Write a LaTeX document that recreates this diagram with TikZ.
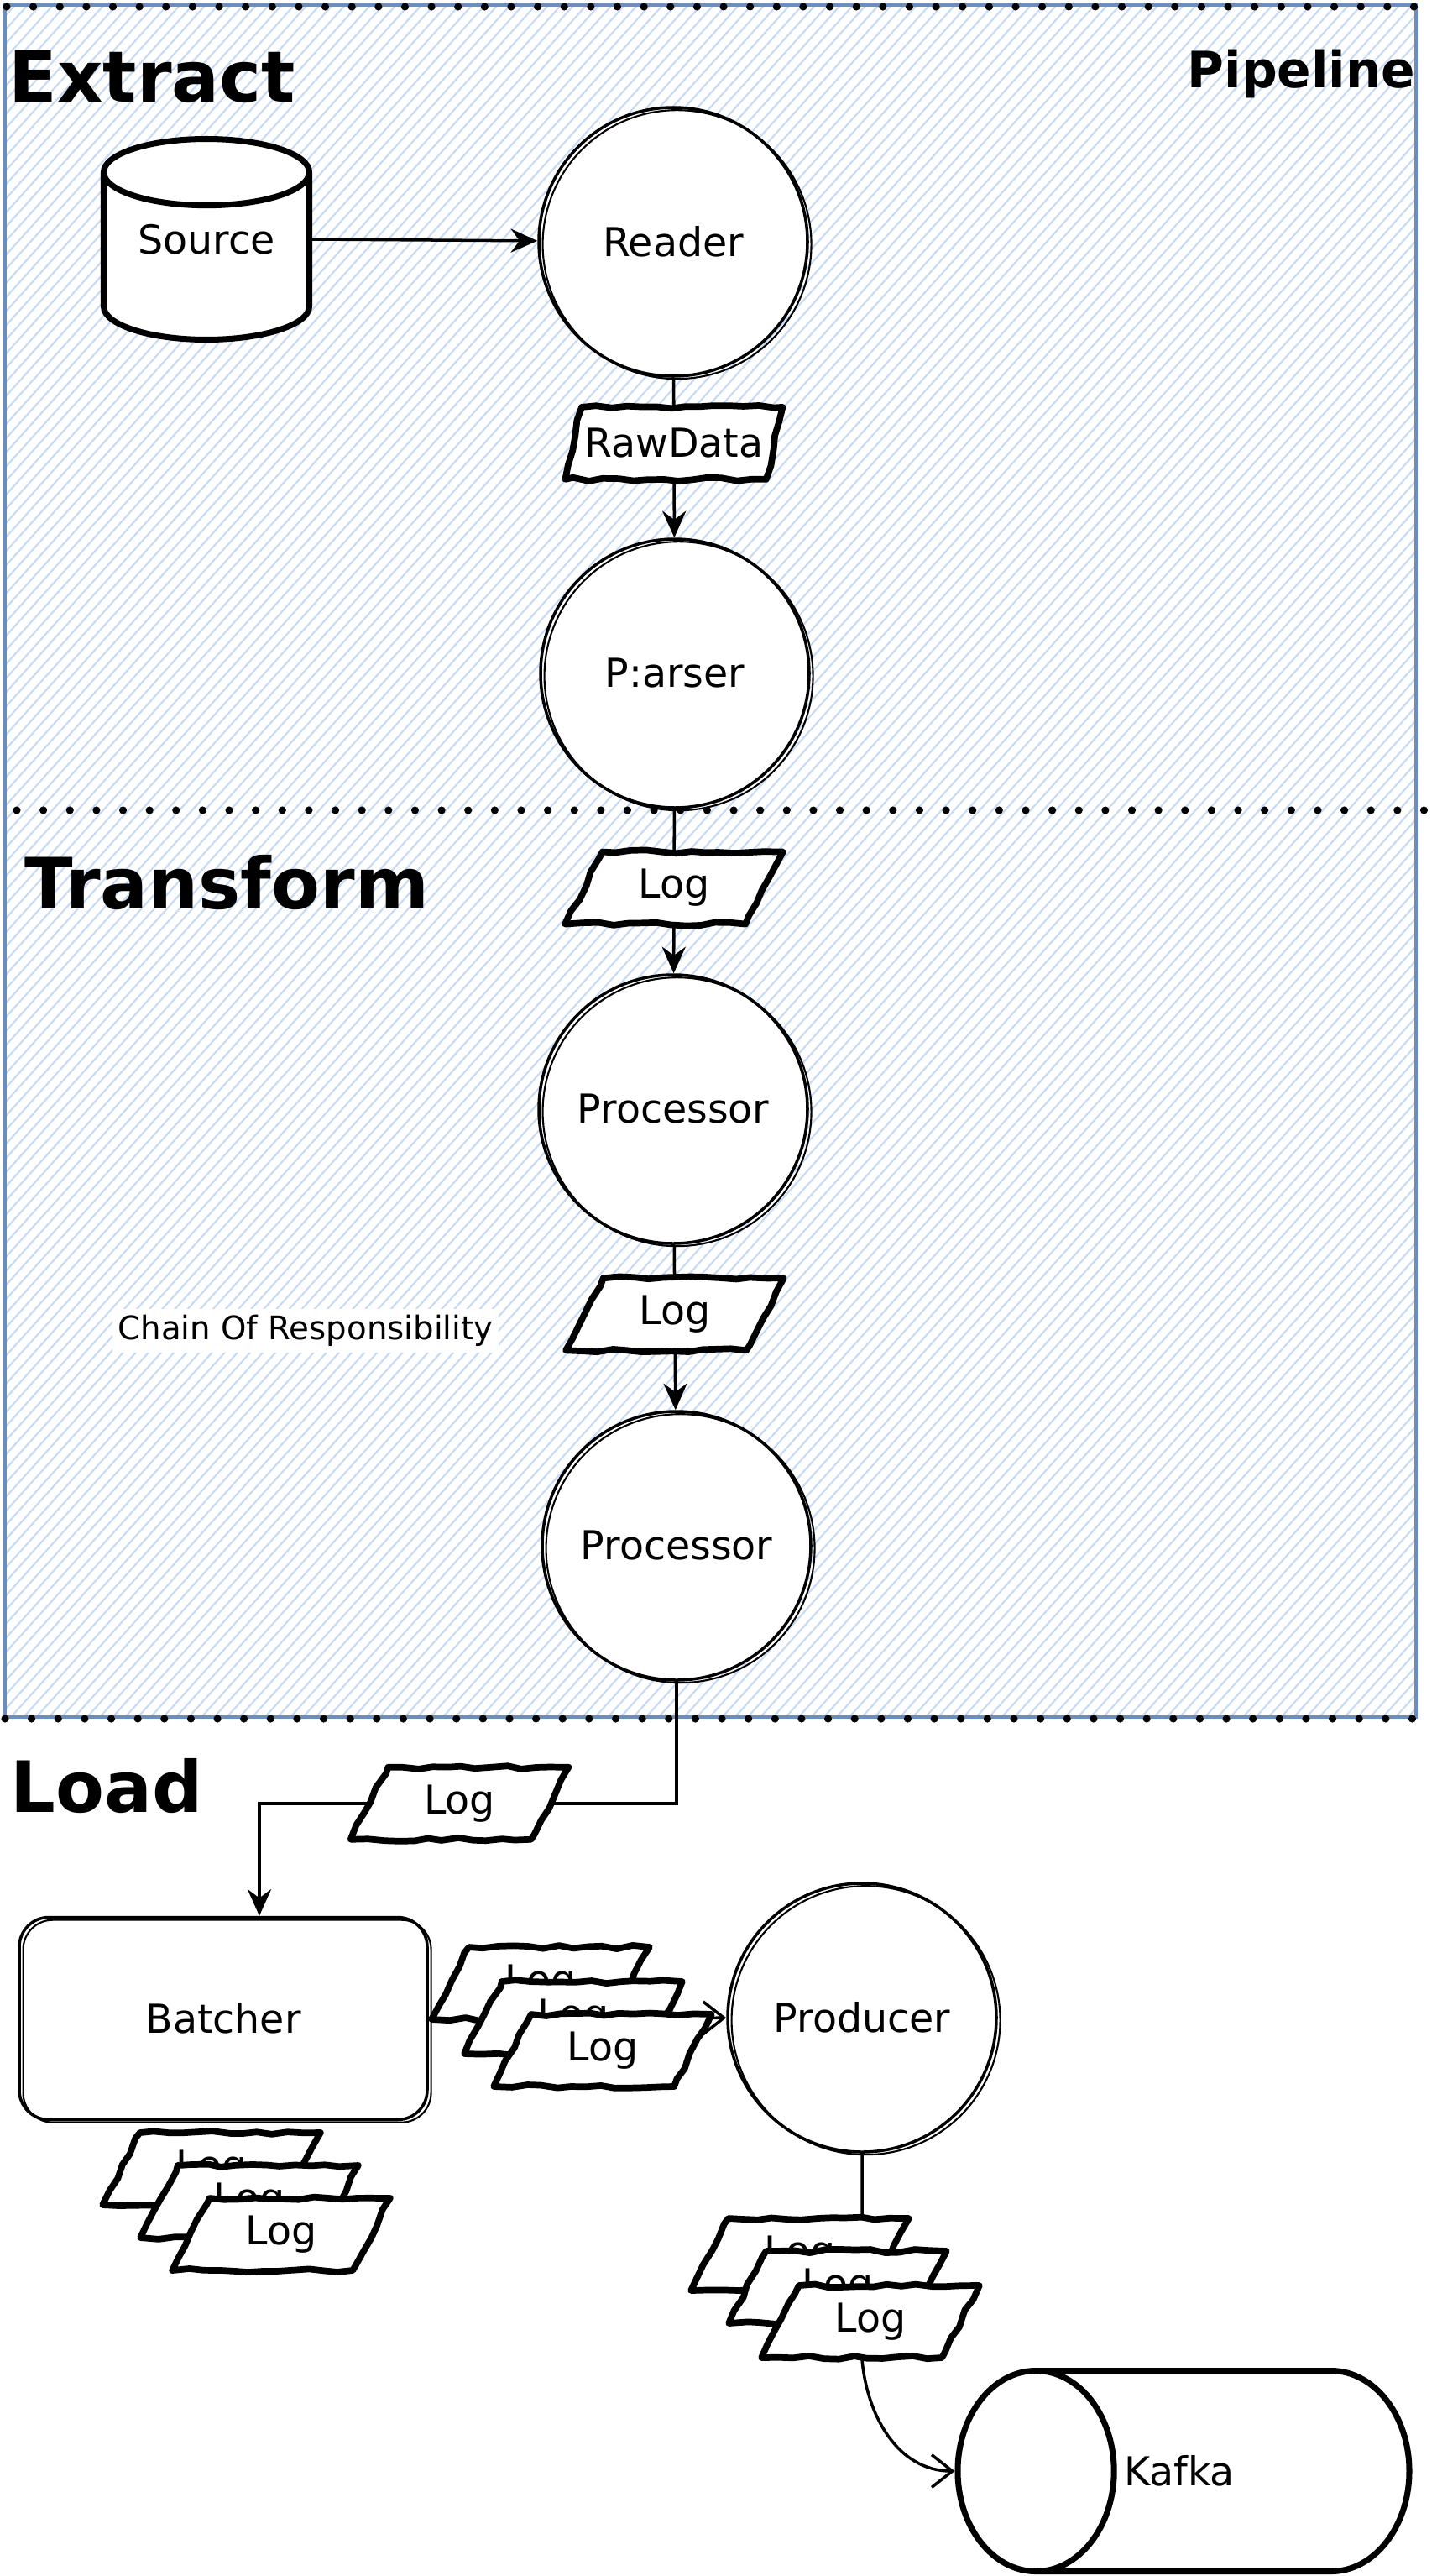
\documentclass[tikz,border=0pt]{standalone}
\usepackage{fontspec}
\setmainfont{DejaVu Sans}
\usepackage{tikz}
\usetikzlibrary{shapes.geometric,patterns.meta,arrows.meta,decorations.pathmorphing}
\definecolor{hatchblue}{HTML}{C6DAF7}
\definecolor{frameblue}{HTML}{6C8EBF}

\begin{document}
\begin{tikzpicture}[
		txt/.style={font=\fontsize{13.5}{16}\selectfont},
		head/.style={font=\fontsize{24}{28}\selectfont\bfseries, inner sep=0pt},
		sketch/.style={postaction={draw, line width=0.6pt, transform canvas={xshift=1.3pt, yshift=-0.9pt}}},
		stage/.style={circle, draw, fill=white, line width=1pt, minimum size=3.2cm, txt, sketch},
		logbox/.style={trapezium, trapezium left angle=65, trapezium right angle=115, trapezium stretches=true, draw, fill=white, line width=2.2pt, line join=round, minimum width=2.6cm, minimum height=0.86cm, inner sep=1pt, txt, decorate, decoration={random steps, segment length=5pt, amplitude=0.6pt}},
		store/.style={cylinder, draw, fill=white, line width=2pt, anchor=shape center},
		dots/.style={line width=2.6pt, line cap=round, dash pattern=on 0pt off 9pt},
		flow/.style={line width=1pt, -{Stealth[length=9pt, width=8pt]}},
		flowopen/.style={line width=1pt, -{Straight Barb[length=7pt, width=11pt]}}
	]
		\pgfmathsetseed{7}
		\useasboundingbox (0,0) rectangle (17.12,-30.68);
		\fill[white] (0,0) rectangle (17.12,-30.68);
		\draw[frameblue, line width=1.2pt, pattern={Lines[angle=48, distance=3.2pt, line width=0.6pt]}, pattern color=hatchblue] (0.06,-0.06) rectangle (16.87,-20.45);

		\node[head, anchor=base west] (extract) at (0.10,-1.21) {Extract};
		\node[head, font=\fontsize{17}{20}\selectfont\bfseries, anchor=north east] (pipeline) at (16.87,-0.58) {Pipeline};
		\node[head, anchor=base west] (transform) at (0.29,-10.82) {Transform};
		\node[head, anchor=base west] (load) at (0.12,-21.58) {Load};

		\node[store, shape border rotate=90, txt, text width=1.65cm, aspect=0.42, minimum width=2.45cm, minimum height=2.39cm] (source) at (2.46,-2.85) {};
		\node[txt] (sourcetext) at (source.shape center) {Source};
		\node[stage] (reader) at (8.02,-2.88) {Reader};
		\node[stage] (parser) at (8.04,-8.02) {P:arser};
		\node[stage] (proc1) at (8.02,-13.21) {Processor};
		\node[stage] (proc2) at (8.06,-18.41) {Processor};
		\node[draw, fill=white, rounded corners=10pt, line width=1pt, minimum width=4.86cm, minimum height=2.41cm, txt, sketch] (batcher) at (2.66,-24.04) {Batcher};
		\node[stage] (producer) at (10.27,-24.03) {Producer};
		\node[store, shape border rotate=180, text height=0.5cm, text depth=0pt, inner sep=0.1cm, aspect=2.66, minimum width=2.39cm, minimum height=5.38cm] (kafka) at (14.10,-29.43) {};
		\node[txt] (kafkatext) at ([xshift=-0.05cm]kafka.shape center) {Kafka};
		\node[txt, font=\fontsize{11}{13}\selectfont, fill=white, inner sep=2pt] (chain) at (3.64,-15.85) {Chain Of Responsibility};

		\draw[flow] (source.shape center -| source.east) -- (reader);
		\draw[flow] (reader) -- node[logbox, pos=0.41] (rawdata) {RawData} (parser);
		\draw[flow] (parser) -- node[logbox, pos=0.48] (log1) {Log} (proc1);
		\draw[flow] (proc1) -- node[logbox, pos=0.42] (log2) {Log} (proc2);
		\draw[flow] (proc2.south) -- ++(0,-1.45) -| node[logbox, pos=0.26] (log3) {Log} ([xshift=0.43cm]batcher.north);

		\draw[flowopen] (batcher) -- (producer);
		\node[logbox] (logb1) at (6.44,-23.62) {Log};
		\node[logbox] (logb2) at (6.83,-24.03) {Log};
		\node[logbox] (logb3) at (7.18,-24.42) {Log};

		\node[logbox] (loga1) at (2.52,-25.83) {Log};
		\node[logbox] (loga2) at (2.97,-26.22) {Log};
		\node[logbox] (loga3) at (3.35,-26.61) {Log};

		\draw[flowopen] (producer.south) -- (10.27,-28.1) to[out=-85, in=180] (kafka.west);
		\node[logbox] (logp1) at (9.53,-26.85) {Log};
		\node[logbox] (logp2) at (9.98,-27.24) {Log};
		\node[logbox] (logp3) at (10.37,-27.65) {Log};

		\draw[dots] (0.08,-0.08) -- (16.87,-0.08);
		\draw[dots] (0.2,-9.65) -- (17.05,-9.65);
		\draw[dots] (0.06,-20.47) -- (16.87,-20.47);
	\end{tikzpicture}
\end{document}
